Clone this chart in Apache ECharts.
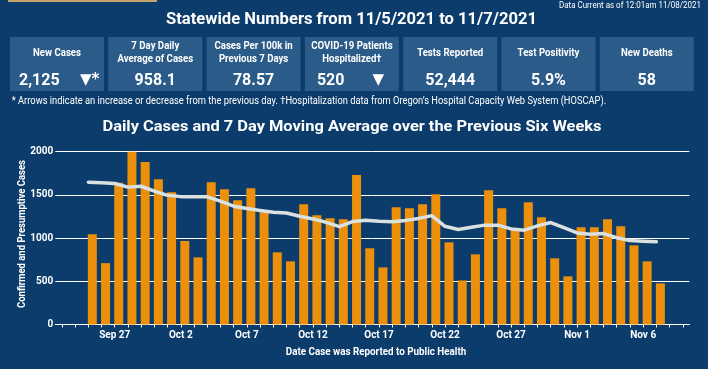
<!DOCTYPE html>
<html>
<head>
<meta charset="utf-8">
<script src="https://cdn.jsdelivr.net/npm/echarts@6/dist/echarts.min.js"></script>
<style>
html,body{margin:0;padding:0;background:#0c3c6b;}
#c{width:708px;height:369px;}
</style>
</head>
<body>
<div id="c"></div>
<script>
// ---- data ----
const axisDays = ['Sep 23','Sep 24','Sep 25','Sep 26','Sep 27','Sep 28','Sep 29','Sep 30',
  'Oct 1','Oct 2','Oct 3','Oct 4','Oct 5','Oct 6','Oct 7','Oct 8','Oct 9','Oct 10',
  'Oct 11','Oct 12','Oct 13','Oct 14','Oct 15','Oct 16','Oct 17','Oct 18','Oct 19','Oct 20',
  'Oct 21','Oct 22','Oct 23','Oct 24','Oct 25','Oct 26','Oct 27','Oct 28','Oct 29','Oct 30',
  'Oct 31','Nov 1','Nov 2','Nov 3','Nov 4','Nov 5','Nov 6','Nov 7','Nov 8','Nov 9'];
const dataDays = axisDays.slice(2, 46); // Sep 25 .. Nov 7
const dailyCases = [1045,710,1640,1998,1880,1682,1530,967,777,1647,1566,1438,1578,1300,835,731,
  1392,1265,1230,1218,1729,882,661,1357,1346,1392,1508,951,510,812,1555,1346,1090,1415,1241,
  766,557,1125,1125,1218,1137,916,731,476];
const movingAvg = [1647,1640,1632,1590,1600,1543,1495,1480,1478,1478,1427,1369,1342,1319,1299,
  1290,1253,1222,1183,1133,1192,1206,1195,1190,1205,1228,1260,1137,1100,1125,1150,1150,1106,
  1092,1141,1180,1121,1060,1044,1052,1005,971,963,958];
const tickLabels = ['Sep 27','Oct 2','Oct 7','Oct 12','Oct 17','Oct 22','Oct 27','Nov 1','Nov 6'];
const yTicks = [0,500,1000,1500,2000];

const boxLabels = [['New Cases'],['7 Day Daily','Average of Cases'],['Cases Per 100k in','Previous 7 Days'],
  ['COVID-19 Patients','Hospitalized\u2020'],['Tests Reported'],['Test Positivity'],['New Deaths']];
const boxValues = ['2,125','958.1','78.57','520','52,444','5.9%','58'];
const boxArrows = ['\u25BC*','','','\u25BC','','',''];

const mainTitle = 'Statewide Numbers from 11/5/2021 to 11/7/2021';
const currentNote = 'Data Current as of 12:01am 11/08/2021';
const footNote = '* Arrows indicate an increase or decrease from the previous day. \u2020Hospitalization data from Oregon\u2019s Hospital Capacity Web System (HOSCAP).';
const chartTitle = 'Daily Cases and 7 Day Moving Average over the Previous Six Weeks';
const xName = 'Date Case was Reported to Public Health';
const yName = 'Confirmed and Presumptive Cases';

// ---- style ----
const FONT = "Roboto, 'Noto Sans', sans-serif";
const BG = '#0c3c6b', BOX = '#2b5b89', BAR = '#ec8f0b', LINE = '#d9e1e1';

const mctx = document.createElement('canvas').getContext('2d');
function fit(text, font, targetW) {
  mctx.font = font;
  const w = mctx.measureText(text).width;
  return w > 0 ? targetW / w : 1;
}
function txt(text, x, y, font, align, sx, rot) {
  return {type:'text', x:x, y:y, scaleX:sx, scaleY:1, rotation:rot || 0,
    style:{text:text, x:0, y:0, textAlign:align, textVerticalAlign:'middle', font:font, fill:'#fff'}};
}

const titleFont = "bold 16.5px " + FONT;
const noteFont = "9px " + FONT;
const labelFont = "bold 10px " + FONT;
const valueFont = "bold 16px " + FONT;
const footFont = "10px " + FONT;
const ctFont = "bold 15.5px " + FONT;
const axNameFont = "bold 10px " + FONT;
const labelScale = fit('Average of Cases', labelFont, 75.7);

const graphic = [];
graphic.push({type:'rect', shape:{x:8,y:0,width:149,height:2}, style:{fill:'#c4a46a'}});
graphic.push(txt(mainTitle, 351.5, 20, titleFont, 'center', fit(mainTitle, titleFont, 371)));
graphic.push(txt(currentNote, 701, 5.5, noteFont, 'right', fit(currentNote, noteFont, 142)));
const boxW = 94, boxStep = 98.3, boxX0 = 10, boxY = 37, boxH = 54;
boxValues.forEach((v, i) => {
  const x = boxX0 + i*boxStep;
  graphic.push({type:'rect', shape:{x:x, y:boxY, width:boxW, height:boxH}, style:{fill:BOX}});
  const lines = boxLabels[i];
  lines.forEach((t, j) => {
    const y = lines.length === 1 ? 53.5 : 46.7 + j*12.5;
    graphic.push(txt(t, x+boxW/2, y, labelFont, 'center', labelScale));
  });
  if (boxArrows[i]) {
    graphic.push(txt(v, x+(i===0?9:12), 80.5, valueFont, 'left', 1));
    graphic.push(txt(boxArrows[i], x+(i===0?70:67.5), 80.5, "bold 15px 'DejaVu Sans', sans-serif", 'left', 1));
  } else {
    graphic.push(txt(v, x+boxW/2, 80.5, valueFont, 'center', 1));
  }
});
graphic.push(txt(footNote, 11.7, 101.7, footFont, 'left', fit(footNote, footFont, 594.5)));
graphic.push(txt(chartTitle, 352, 127.3, ctFont, 'center', fit(chartTitle, ctFont, 499)));
graphic.push(txt(xName, 376, 352.3, axNameFont, 'center', fit(xName, axNameFont, 180.5)));
graphic.push(txt(yName, 22.7, 234, axNameFont, 'center', fit(yName, axNameFont, 148), Math.PI/2));

const chart = echarts.init(document.getElementById('c'));
chart.setOption({
  backgroundColor: BG,
  animation: false,
  graphic: graphic,
  grid: [
    {left:55.3, right:18.6, top:151.7, bottom:44.5},
    {left:59.3, right:14.6, top:151.7, bottom:44.5}
  ],
  xAxis: [
    {type:'category', gridIndex:0, data:axisDays, boundaryGap:true,
     axisLine:{lineStyle:{color:'#fff', width:1}},
     axisTick:{show:true, alignWithLabel:true, interval:0, length:3, lineStyle:{color:'#fff'}},
     axisLabel:{color:'#fff', fontFamily:FONT, fontWeight:'bold', fontSize:10, margin:6,
       interval:(i, v) => tickLabels.indexOf(v) >= 0},
     splitLine:{show:false}},
    {type:'category', gridIndex:1, data:axisDays, boundaryGap:true, show:false}
  ],
  yAxis: [
    {type:'value', gridIndex:0, min:yTicks[0], max:yTicks[yTicks.length-1], interval:yTicks[1]-yTicks[0],
     axisLine:{show:false}, axisTick:{show:false},
     axisLabel:{color:'#fff', fontFamily:FONT, fontWeight:'bold', fontSize:10, margin:2,
       formatter:(v) => String(v)},
     splitLine:{lineStyle:{color:'#fff', width:1}}},
    {type:'value', gridIndex:1, min:yTicks[0], max:yTicks[yTicks.length-1], show:false, splitLine:{show:false}}
  ],
  series: [
    {type:'bar', xAxisIndex:1, yAxisIndex:1, barWidth:9,
     itemStyle:{color:BAR},
     data: dataDays.map((d, i) => [d, dailyCases[i]])},
    {type:'line', xAxisIndex:0, yAxisIndex:0, z:5, symbol:'none', smooth:false,
     lineStyle:{color:LINE, width:3.5, cap:'round', join:'round'},
     data: dataDays.map((d, i) => [d, movingAvg[i]])}
  ]
});
</script>
</body>
</html>
